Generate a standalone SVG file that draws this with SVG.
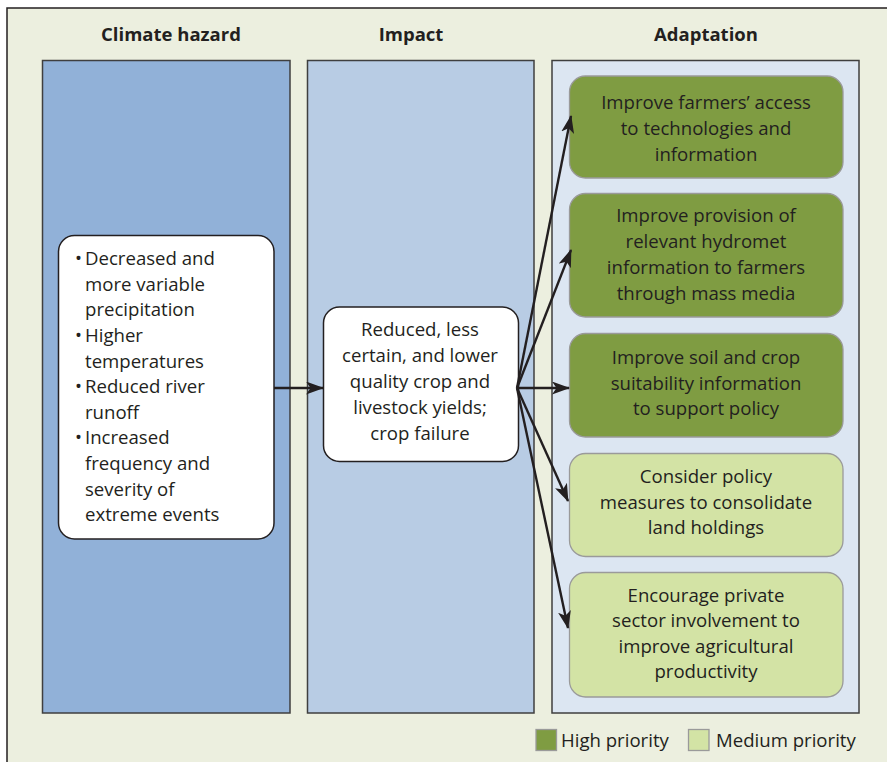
<svg xmlns="http://www.w3.org/2000/svg" width="887" height="762" viewBox="0 0 887 762">
<defs>
<marker id="ah" viewBox="0 0 18 13" refX="17" refY="6.5" markerWidth="18" markerHeight="13" markerUnits="userSpaceOnUse" orient="auto">
<path d="M0,0 L18,6.5 L0,13 L4.5,6.5 Z" fill="#231F20"/>
</marker>
</defs>
<style>
text{font-family:"Open Sans","Liberation Sans",sans-serif;fill:#231F20;font-size:18.6px}
.hd{font-weight:bold;font-size:18.5px;text-anchor:middle}
.c{text-anchor:middle}
.col{stroke:#3f3f3f;stroke-width:1.5}
.node{fill:#fff;stroke:#231F20;stroke-width:1.5}
.hi{fill:#7F9C42;stroke:#9a9a9a;stroke-width:1.3}
.med{fill:#D3E3A5;stroke:#9a9a9a;stroke-width:1.3}
.con{stroke:#231F20;stroke-width:2.4;fill:none;marker-end:url(#ah)}
</style>
<rect x="0" y="0" width="887" height="762" fill="#fff"/>
<rect x="7" y="8" width="885" height="760" fill="#ECEFDF" stroke="#231F20" stroke-width="1.5"/>
<text class="hd" x="171" y="41">Climate hazard</text>
<text class="hd" x="411" y="41">Impact</text>
<text class="hd" x="706" y="41">Adaptation</text>
<rect class="col" x="42.5" y="60.5" width="247.5" height="652.5" fill="#91B1D8"/>
<rect class="col" x="307.5" y="60.5" width="226.5" height="652.5" fill="#B8CCE4"/>
<rect class="col" x="552" y="60.5" width="307" height="652.5" fill="#DCE6F2"/>
<g id="hazard">
<rect class="node" x="58.5" y="235.5" width="215.5" height="303.5" rx="16"/>
<text x="75" y="265">•</text><text x="85" y="265">Decreased and</text>
<text x="85" y="291">more variable</text>
<text x="85" y="316">precipitation</text>
<text x="75" y="342">•</text><text x="85" y="342">Higher</text>
<text x="85" y="368">temperatures</text>
<text x="75" y="393">•</text><text x="85" y="393">Reduced river</text>
<text x="85" y="419">runoff</text>
<text x="75" y="444">•</text><text x="85" y="444">Increased</text>
<text x="85" y="470">frequency and</text>
<text x="85" y="496">severity of</text>
<text x="85" y="521">extreme events</text>
</g>
<g id="impact">
<rect class="node" x="323.5" y="307" width="195" height="154.5" rx="16"/>
<text class="c" x="420" y="336">Reduced, less</text>
<text class="c" x="420" y="362">certain, and lower</text>
<text class="c" x="420" y="388">quality crop and</text>
<text class="c" x="420" y="414">livestock yields;</text>
<text class="c" x="420" y="440">crop failure</text>
</g>
<g id="a1">
<rect class="hi" x="569.5" y="76" width="273.5" height="102" rx="16"/>
<text class="c" x="706" y="109">Improve farmers’ access</text>
<text class="c" x="706" y="135">to technologies and</text>
<text class="c" x="706" y="161">information</text>
</g>
<g id="a2">
<rect class="hi" x="569.5" y="193.5" width="273.5" height="123.5" rx="16"/>
<text class="c" x="706" y="222">Improve provision of</text>
<text class="c" x="706" y="248">relevant hydromet</text>
<text class="c" x="706" y="274">information to farmers</text>
<text class="c" x="706" y="300">through mass media</text>
</g>
<g id="a3">
<rect class="hi" x="569.5" y="333.5" width="273.5" height="103.5" rx="16"/>
<text class="c" x="706" y="364">Improve soil and crop</text>
<text class="c" x="706" y="390">suitability information</text>
<text class="c" x="706" y="415">to support policy</text>
</g>
<g id="a4">
<rect class="med" x="569.5" y="453.5" width="273.5" height="103" rx="16"/>
<text class="c" x="706" y="483">Consider policy</text>
<text class="c" x="706" y="509">measures to consolidate</text>
<text class="c" x="706" y="534">land holdings</text>
</g>
<g id="a5">
<rect class="med" x="569.5" y="572.5" width="273.5" height="124.5" rx="16"/>
<text class="c" x="706" y="602">Encourage private</text>
<text class="c" x="706" y="627">sector involvement to</text>
<text class="c" x="706" y="653">improve agricultural</text>
<text class="c" x="706" y="678">productivity</text>
</g>
<g id="connectors">
<line class="con" x1="274" y1="388" x2="323" y2="388"/>
<line class="con" x1="517" y1="388" x2="571" y2="116"/>
<line class="con" x1="517" y1="388" x2="571" y2="250"/>
<line class="con" x1="517" y1="388" x2="569" y2="388"/>
<line class="con" x1="517" y1="388" x2="568" y2="501"/>
<line class="con" x1="517" y1="388" x2="568" y2="628"/>
</g>
<g id="legend">
<rect x="536" y="729.5" width="20.5" height="21" fill="#7F9C42" stroke="#9a9a9a" stroke-width="1.3"/>
<text x="561" y="747">High priority</text>
<rect x="688.5" y="729.5" width="20.5" height="21" fill="#D3E3A5" stroke="#9a9a9a" stroke-width="1.3"/>
<text x="716" y="747">Medium priority</text>
</g>
</svg>
